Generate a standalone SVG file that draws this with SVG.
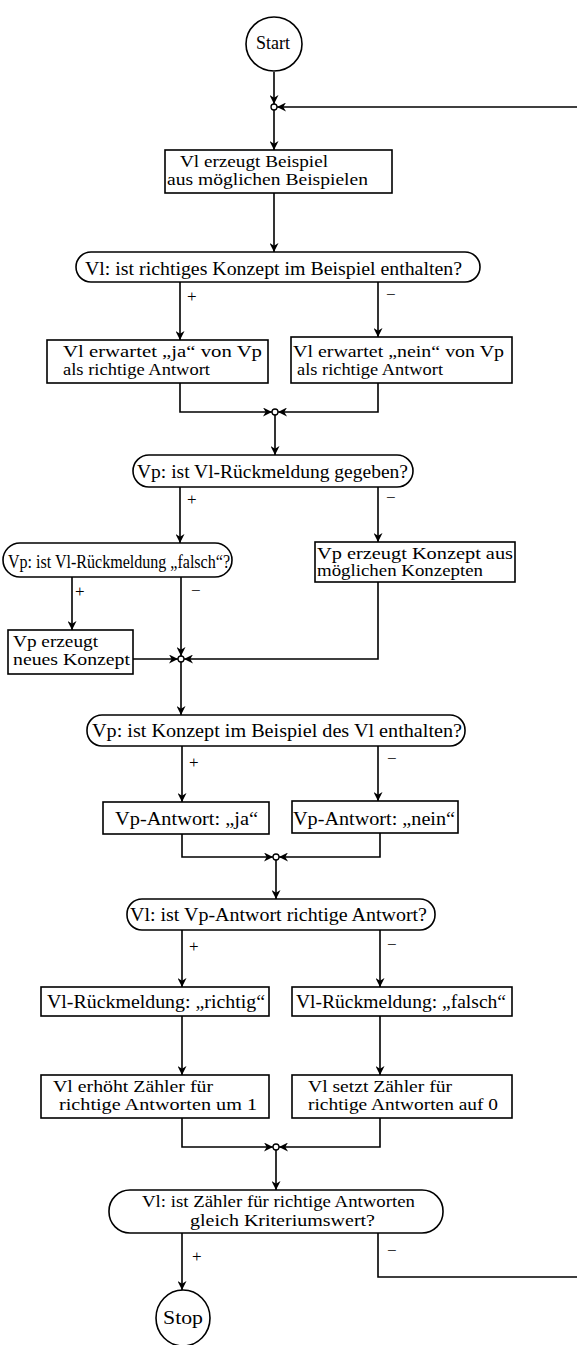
<svg xmlns="http://www.w3.org/2000/svg" width="577" height="1345" viewBox="0 0 577 1345">
<style>
.n{fill:#fff;stroke:#000;stroke-width:1.6}
.c{fill:none;stroke:#000;stroke-width:1.6}
.j{fill:#fff;stroke:#000;stroke-width:1.3}
text{font-family:"Liberation Serif","Times New Roman",serif;font-size:19px;fill:#000}
.t{font-size:17px}
.s{font-size:17px}
</style>
<defs>
<marker id="b" viewBox="0 0 10 10" refX="10" refY="5" markerWidth="9" markerHeight="9" orient="auto" markerUnits="userSpaceOnUse">
<path d="M0,0 L10,5 L0,10 L3,5 z" fill="#000"/>
</marker>
</defs>
<rect width="577" height="1345" fill="#fff"/>
<g id="connectors">
<path class="c" d="M274,72 V104" marker-end="url(#b)"/>
<path class="c" d="M577,107 H277" marker-end="url(#b)"/>
<path class="c" d="M274,110 V150" marker-end="url(#b)"/>
<path class="c" d="M274,193 V252" marker-end="url(#b)"/>
<path class="c" d="M180,282 V340" marker-end="url(#b)"/>
<path class="c" d="M378,282 V337" marker-end="url(#b)"/>
<path class="c" d="M180,383 V412 H272" marker-end="url(#b)"/>
<path class="c" d="M378,383 V412 H278" marker-end="url(#b)"/>
<path class="c" d="M275,415 V455" marker-end="url(#b)"/>
<path class="c" d="M180,487 V543" marker-end="url(#b)"/>
<path class="c" d="M378,487 V542" marker-end="url(#b)"/>
<path class="c" d="M72,577 V630" marker-end="url(#b)"/>
<path class="c" d="M181,577 V656" marker-end="url(#b)"/>
<path class="c" d="M133,659 H178" marker-end="url(#b)"/>
<path class="c" d="M378,582 V659 H184" marker-end="url(#b)"/>
<path class="c" d="M181,662 V715" marker-end="url(#b)"/>
<path class="c" d="M182,746 V802" marker-end="url(#b)"/>
<path class="c" d="M378,746 V801" marker-end="url(#b)"/>
<path class="c" d="M182,834 V857 H273" marker-end="url(#b)"/>
<path class="c" d="M380,833 V857 H279" marker-end="url(#b)"/>
<path class="c" d="M276,860 V899" marker-end="url(#b)"/>
<path class="c" d="M182,930 V987" marker-end="url(#b)"/>
<path class="c" d="M380,930 V987" marker-end="url(#b)"/>
<path class="c" d="M182,1016 V1075" marker-end="url(#b)"/>
<path class="c" d="M380,1016 V1075" marker-end="url(#b)"/>
<path class="c" d="M182,1118 V1147 H273" marker-end="url(#b)"/>
<path class="c" d="M380,1118 V1147 H279" marker-end="url(#b)"/>
<path class="c" d="M276,1150 V1190" marker-end="url(#b)"/>
<path class="c" d="M182,1233 V1290" marker-end="url(#b)"/>
<path class="c" d="M378,1233 V1277 H577"/>
<circle class="j" cx="274" cy="107" r="3"/>
<circle class="j" cx="275" cy="412" r="3"/>
<circle class="j" cx="181" cy="659" r="3"/>
<circle class="j" cx="276" cy="857" r="3"/>
<circle class="j" cx="276" cy="1147" r="3"/>
<text class="s" x="187" y="302">+</text>
<text class="s" x="386" y="300">−</text>
<text class="s" x="187" y="505">+</text>
<text class="s" x="386" y="503">−</text>
<text class="s" x="75" y="597">+</text>
<text class="s" x="191" y="596">−</text>
<text class="s" x="189" y="768">+</text>
<text class="s" x="387" y="764">−</text>
<text class="s" x="189" y="952">+</text>
<text class="s" x="387" y="950">−</text>
<text class="s" x="192" y="1262">+</text>
<text class="s" x="387" y="1256">−</text>
</g>
<g id="start">
<ellipse class="n" cx="274" cy="44" rx="28" ry="27"/>
<text x="256" y="49" textLength="34" lengthAdjust="spacingAndGlyphs">Start</text>
</g>
<g id="box1">
<rect class="n" x="165" y="150" width="227" height="43"/>
<text class="t" x="180" y="167" textLength="148" lengthAdjust="spacingAndGlyphs">Vl erzeugt Beispiel</text>
<text class="t" x="167" y="185" textLength="201" lengthAdjust="spacingAndGlyphs">aus möglichen Beispielen</text>
</g>
<g id="d1">
<rect class="n" x="76" y="252" width="404" height="30" rx="15"/>
<text x="85" y="275" textLength="377" lengthAdjust="spacingAndGlyphs">Vl: ist richtiges Konzept im Beispiel enthalten?</text>
</g>
<g id="box2a">
<rect class="n" x="47" y="340" width="221" height="43"/>
<text class="t" x="63" y="357" textLength="199" lengthAdjust="spacingAndGlyphs">Vl erwartet „ja“ von Vp</text>
<text class="t" x="63" y="375" textLength="147" lengthAdjust="spacingAndGlyphs">als richtige Antwort</text>
</g>
<g id="box2b">
<rect class="n" x="291" y="337" width="221" height="46"/>
<text class="t" x="293" y="357" textLength="211" lengthAdjust="spacingAndGlyphs">Vl erwartet „nein“ von Vp</text>
<text class="t" x="297" y="375" textLength="146" lengthAdjust="spacingAndGlyphs">als richtige Antwort</text>
</g>
<g id="d2">
<rect class="n" x="133" y="455" width="280" height="32" rx="16"/>
<text x="137" y="478" textLength="271" lengthAdjust="spacingAndGlyphs">Vp: ist Vl-Rückmeldung gegeben?</text>
</g>
<g id="d3">
<rect class="n" x="3" y="543" width="229" height="34" rx="17"/>
<text x="8" y="568" textLength="222" lengthAdjust="spacingAndGlyphs">Vp: ist Vl-Rückmeldung „falsch“?</text>
</g>
<g id="box3">
<rect class="n" x="315" y="542" width="200" height="40"/>
<text class="t" x="317" y="559" textLength="196" lengthAdjust="spacingAndGlyphs">Vp erzeugt Konzept aus</text>
<text class="t" x="317" y="576" textLength="166" lengthAdjust="spacingAndGlyphs">möglichen Konzepten</text>
</g>
<g id="box4">
<rect class="n" x="8" y="630" width="125" height="44"/>
<text class="t" x="13" y="647" textLength="85" lengthAdjust="spacingAndGlyphs">Vp erzeugt</text>
<text class="t" x="13" y="665" textLength="117" lengthAdjust="spacingAndGlyphs">neues Konzept</text>
</g>
<g id="d4">
<rect class="n" x="87" y="715" width="378" height="31" rx="15"/>
<text x="92" y="737" textLength="370" lengthAdjust="spacingAndGlyphs">Vp: ist Konzept im Beispiel des Vl enthalten?</text>
</g>
<g id="box5a">
<rect class="n" x="103" y="802" width="166" height="32"/>
<text x="115" y="825" textLength="143" lengthAdjust="spacingAndGlyphs">Vp-Antwort: „ja“</text>
</g>
<g id="box5b">
<rect class="n" x="292" y="801" width="166" height="32"/>
<text x="293" y="825" textLength="162" lengthAdjust="spacingAndGlyphs">Vp-Antwort: „nein“</text>
</g>
<g id="d5">
<rect class="n" x="127" y="899" width="308" height="31" rx="15"/>
<text x="130" y="921" textLength="297" lengthAdjust="spacingAndGlyphs">Vl: ist Vp-Antwort richtige Antwort?</text>
</g>
<g id="box6a">
<rect class="n" x="41" y="987" width="228" height="29"/>
<text x="47" y="1008" textLength="218" lengthAdjust="spacingAndGlyphs">Vl-Rückmeldung: „richtig“</text>
</g>
<g id="box6b">
<rect class="n" x="292" y="987" width="220" height="29"/>
<text x="296" y="1008" textLength="210" lengthAdjust="spacingAndGlyphs">Vl-Rückmeldung: „falsch“</text>
</g>
<g id="box7a">
<rect class="n" x="41" y="1075" width="228" height="43"/>
<text class="t" x="53" y="1092" textLength="160" lengthAdjust="spacingAndGlyphs">Vl erhöht Zähler für</text>
<text class="t" x="59" y="1110" textLength="198" lengthAdjust="spacingAndGlyphs">richtige Antworten um 1</text>
</g>
<g id="box7b">
<rect class="n" x="292" y="1075" width="220" height="43"/>
<text class="t" x="308" y="1092" textLength="144" lengthAdjust="spacingAndGlyphs">Vl setzt Zähler für</text>
<text class="t" x="308" y="1110" textLength="190" lengthAdjust="spacingAndGlyphs">richtige Antworten auf 0</text>
</g>
<g id="d6">
<rect class="n" x="109" y="1190" width="334" height="43" rx="21"/>
<text class="t" x="142" y="1207" textLength="273" lengthAdjust="spacingAndGlyphs">Vl: ist Zähler für richtige Antworten</text>
<text class="t" x="190" y="1226" textLength="185" lengthAdjust="spacingAndGlyphs">gleich Kriteriumswert?</text>
</g>
<g id="stop">
<ellipse class="n" cx="183" cy="1318" rx="27" ry="28"/>
<text x="163" y="1324" textLength="40" lengthAdjust="spacingAndGlyphs">Stop</text>
</g>
</svg>
